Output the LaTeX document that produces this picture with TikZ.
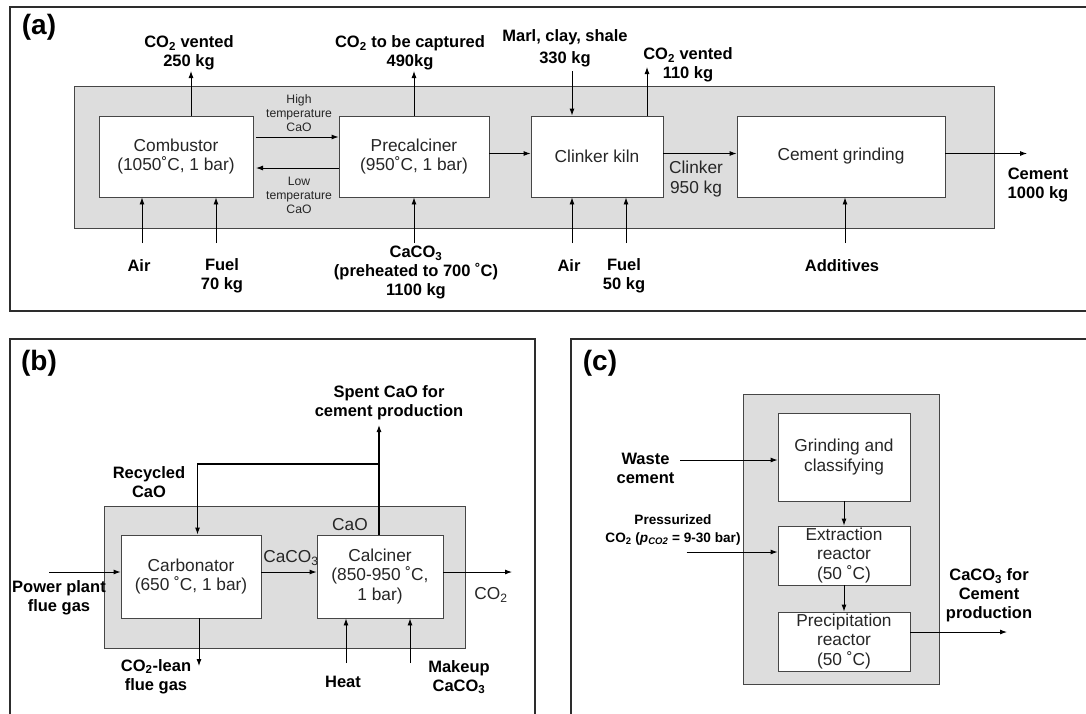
\documentclass[tikz,border=0pt]{standalone}
\usepackage{fontspec}
\setmainfont{Liberation Sans}
\usetikzlibrary{arrows.meta, positioning, calc}

\definecolor{zonegray}{RGB}{221,221,221}
\definecolor{framegray}{RGB}{45,45,45}
\definecolor{edgegray}{RGB}{70,70,70}

\newcommand{\cotwo}{CO\textsubscript{2}}
\newcommand{\cothree}{CaCO\textsubscript{3}}
\newcommand{\boxfont}{\fontsize{17.3}{19.5}\selectfont}
\newcommand{\lblfont}{\fontsize{16.5}{19}\selectfont\bfseries}
\newcommand{\notefont}{\fontsize{12.2}{14}\selectfont}
\newcommand{\presfont}{\fontsize{13.6}{18}\selectfont\bfseries}
\newcommand{\tagfont}{\fontsize{28}{30}\selectfont\bfseries}

\begin{document}
\begin{tikzpicture}[x=1pt, y=-1pt,
    unit/.style={draw=edgegray, fill=white, line width=0.9pt, align=center,
        text=black!85, font=\boxfont, inner sep=0pt},
    stream/.style={align=center, text=black!85, font=\boxfont, inner sep=0pt},
    lbl/.style={align=center, font=\lblfont, inner sep=0pt},
    note/.style={align=center, text=black!85, font=\notefont, inner sep=0pt},
    flow/.style={-{Latex[length=7pt,width=5pt]}, line width=0.9pt},
    zone/.style={draw=edgegray, fill=zonegray, line width=0.9pt},
    frame/.style={draw=framegray, line width=2.6pt}]
\clip (0,0) rectangle (1086,713);
\fill[white] (0,0) rectangle (1086,713);

% (a) cement plant with precalciner and combustor
\draw[frame] (10,7) rectangle (1100,311);
\node[font=\tagfont] (tagA) at (39,27) {(a)};
\draw[zone] (74,86) rectangle (994,228);
\node[unit, minimum width=154pt, minimum height=81pt] (combustor) at (176,156.5) {Combustor\\(1050˚C, 1 bar)};
\node[unit, minimum width=150pt, minimum height=81pt] (precalciner) at (414,156.5) {Precalciner\\(950˚C, 1 bar)};
\node[unit, minimum width=132pt, minimum height=81pt] (kiln) at (597,156.5) {Clinker kiln};
\node[unit, minimum width=208pt, minimum height=81pt] (grinding) at (841,156.5) {Cement grinding};

\node[lbl] (ventA) at (189,53) {\cotwo{} vented\\250 kg};
\node[lbl] (capture) at (410,53) {\cotwo{} to be captured\\490kg};
\node[lbl] (marl) at (565,48) {Marl, clay, shale\\[3pt]330 kg};
\node[lbl] (ventK) at (688,65) {\cotwo{} vented\\110 kg};
\node[note] (hot) at (299,113) {High\\temperature\\CaO};
\node[note] (cold) at (299,195) {Low\\temperature\\CaO};
\node[stream] (clinker) at (696,179) {Clinker\\950 kg};
\node[lbl] (airA) at (139,266) {Air};
\node[lbl] (fuelA) at (222,275.5) {Fuel\\70 kg};
\node[lbl] (feed) at (416,272.5) {\cothree\\(preheated to 700 ˚C)\\1100 kg};
\node[lbl] (airK) at (569,266) {Air};
\node[lbl] (fuelK) at (624,275.5) {Fuel\\50 kg};
\node[lbl] (additives) at (842,266) {Additives};
\node[lbl] (cement) at (1038,185) {Cement\\1000 kg};

\coordinate (ventAend) at (191,71);
\coordinate (captureend) at (414,71);
\coordinate (marlin) at (572,71);
\coordinate (ventKend) at (647,67);
\coordinate (hotin) at (256,137);
\coordinate (coldend) at (256,168);
\coordinate (cementend) at (1027,153.5);
\coordinate (airAin) at (142,243);
\coordinate (fuelAin) at (216,243);
\coordinate (feedin) at (414,243);
\coordinate (airKin) at (572,243);
\coordinate (fuelKin) at (626,243);
\coordinate (additivesin) at (845,243);

\draw[flow] (combustor.north -| ventAend) -- (ventAend);
\draw[flow] (precalciner.north -| captureend) -- (captureend);
\draw[flow] (marlin) -- (marlin |- kiln.north);
\draw[flow] (kiln.north -| ventKend) -- (ventKend);
\draw[flow] (hotin) -- (hotin -| precalciner.west);
\draw[flow] (coldend -| precalciner.west) -- (coldend);
\draw[flow] ([yshift=3pt]precalciner.east) -- ([yshift=3pt]kiln.west);
\draw[flow] ([yshift=3pt]kiln.east) -- ([yshift=3pt]grinding.west);
\draw[flow] ([yshift=3pt]grinding.east) -- (cementend);
\draw[flow] (airAin) -- (airAin |- combustor.south);
\draw[flow] (fuelAin) -- (fuelAin |- combustor.south);
\draw[flow] (feedin) -- (feedin |- precalciner.south);
\draw[flow] (airKin) -- (airKin |- kiln.south);
\draw[flow] (fuelKin) -- (fuelKin |- kiln.south);
\draw[flow] (additivesin) -- (additivesin |- grinding.south);

% (b) calcium looping
\draw[frame] (10,339) rectangle (535,720);
\node[font=\tagfont] (tagB) at (39,363) {(b)};
\draw[zone] (104,506) rectangle (465,648);
\node[unit, minimum width=140pt, minimum height=83pt] (carbonator) at (191,576.5) {Carbonator\\(650 ˚C, 1 bar)};
\node[unit, minimum width=126pt, minimum height=83pt] (calciner) at (380,576.5) {Calciner\\(850-950 ˚C,\\1 bar)};

\node[lbl] (flue) at (59,597.5) {Power plant\\flue gas};
\node[stream] (caco3B) at (291,558) {\cothree};
\node[stream] (co2B) at (491,595) {\cotwo};
\node[lbl] (spent) at (389,402.5) {Spent CaO for\\cement production};
\node[lbl] (recycled) at (149,482.5) {Recycled\\CaO};
\node[stream] (caoB) at (350,525) {CaO};
\node[lbl] (lean) at (156,676.5) {\cotwo-lean\\flue gas};
\node[lbl] (heat) at (343,682) {Heat};
\node[lbl] (makeup) at (459,677) {Makeup\\\cothree};

\coordinate (fluein) at (49,572);
\coordinate (co2Bend) at (512,572);
\coordinate (split) at (379,464);
\coordinate (spentend) at (379,425);
\coordinate (recyclecorner) at (197.5,464);
\coordinate (leanend) at (199,666);
\coordinate (heatin) at (346,663);
\coordinate (makeupin) at (410,663);

\draw[flow] (fluein) -- (fluein -| carbonator.west);
\draw[flow] ([yshift=4.5pt]carbonator.east) -- ([yshift=4.5pt]calciner.west);
\draw[flow] (co2Bend -| calciner.east) -- (co2Bend);
\draw[flow, line width=1.05pt] (split |- calciner.north) -- (split) -- (recyclecorner) -- (recyclecorner |- carbonator.north);
\draw[flow, line width=1.05pt] (split) -- (spentend);
\draw[flow] (leanend |- carbonator.south) -- (leanend);
\draw[flow] (heatin) -- (heatin |- calciner.south);
\draw[flow] (makeupin) -- (makeupin |- calciner.south);

% (c) carbonation of waste cement
\draw[frame] (571,339) rectangle (1100,720);
\node[font=\tagfont] (tagC) at (600,363) {(c)};
\draw[zone] (743.5,394) rectangle (939,684);
\node[unit, minimum width=132pt, minimum height=88pt] (grind) at (844,457) {Grinding and\\classifying};
\node[unit, minimum width=132pt, minimum height=59pt] (extract) at (844,555.5) {Extraction\\reactor\\(50 ˚C)};
\node[unit, minimum width=132pt, minimum height=59pt] (precip) at (844,641.5) {Precipitation\\reactor\\(50 ˚C)};

\node[lbl] (waste) at (645.5,468) {Waste\\cement};
\node[lbl, font=\presfont] (pressure) at (673,530) {Pressurized\\\cotwo{} (\textit{p}\textsubscript{\textit{CO2}} = 9-30 bar)};
\node[lbl] (product) at (989,595.5) {\cothree{} for\\Cement\\production};

\coordinate (wastein) at (680,460);
\coordinate (pressin) at (686.5,552);
\coordinate (productend) at (1007,632);

\draw[flow] (grind.south) -- (extract.north);
\draw[flow] (extract.south) -- (precip.north);
\draw[flow] (wastein) -- (wastein -| grind.west);
\draw[flow] (pressin) -- (pressin -| extract.west);
\draw[flow] (productend -| precip.east) -- (productend);
\end{tikzpicture}
\end{document}
